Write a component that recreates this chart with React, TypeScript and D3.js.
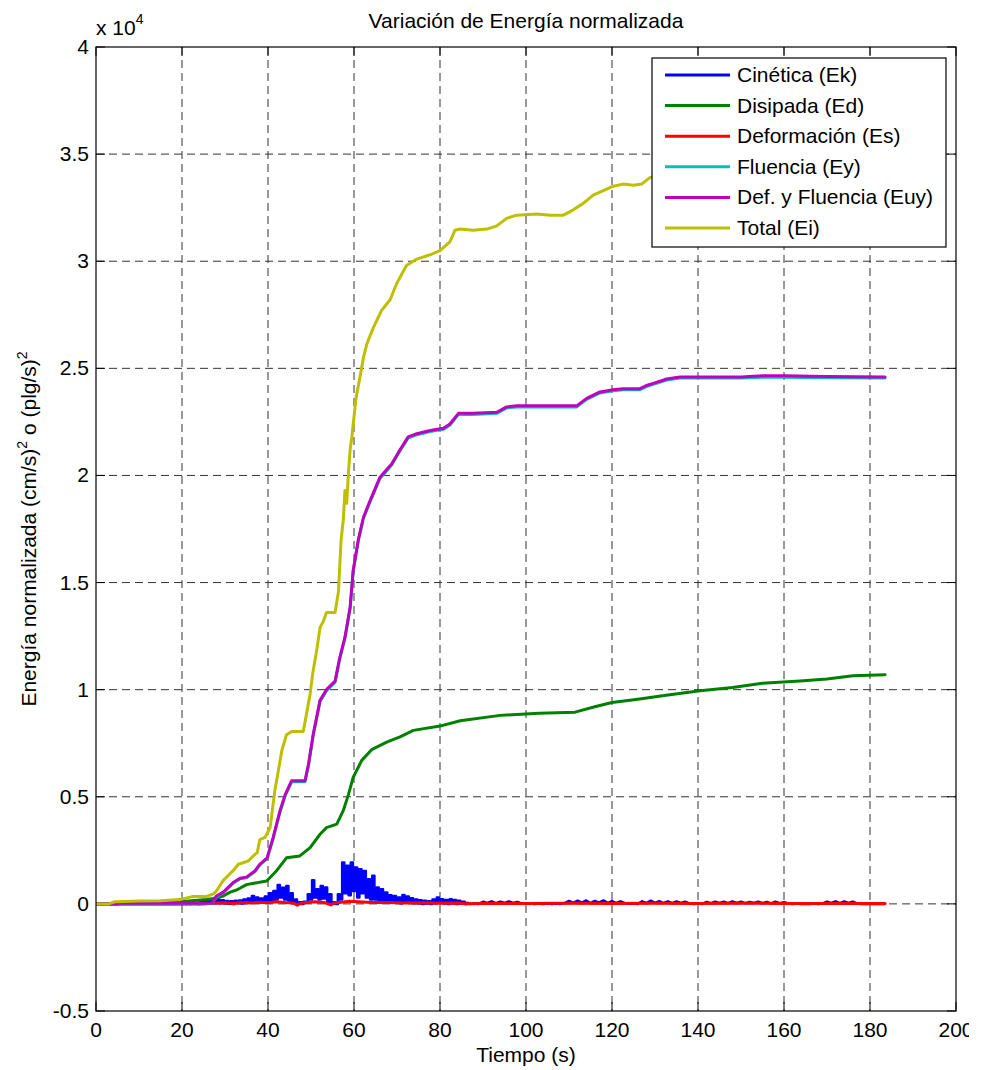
import React from "react";
import * as d3 from "d3";

// ---- Data (energies in units of 1e4) ----
const X_TICKS = [0, 20, 40, 60, 80, 100, 120, 140, 160, 180, 200];
const Y_TICKS = [-0.5, 0, 0.5, 1, 1.5, 2, 2.5, 3, 3.5, 4];

// Total (Ei)
const EI_T = [0, 3, 4.4, 10, 15, 19.5, 22.6, 25.7, 27.3, 28, 29.6, 31.9, 33.1, 35.4, 36.6, 37.5, 38.1, 39.3, 40.5, 41.6, 42.4, 43.2, 44.3, 45.5, 48.2, 48.8, 49.8, 50.4, 51.3, 52.1, 52.9, 53.6, 55.6, 56.4, 57.0, 57.5, 57.9, 58.3, 58.7, 59.1, 59.5, 60.5, 61.4, 62.2, 63, 64.5, 66.4, 68.4, 69.9, 72.2, 74.6, 77.7, 80, 82.3, 83.5, 84.7, 87.7, 90.9, 93.2, 95.5, 97.8, 102.5, 105.6, 108.7, 111, 113.3, 115.7, 118, 120.3, 122.6, 125, 126.9, 128.8, 132, 140, 150, 160, 170, 183.5];
const EI_V = [0, 0, 0.01, 0.013, 0.015, 0.02, 0.035, 0.035, 0.047, 0.06, 0.11, 0.155, 0.185, 0.2, 0.224, 0.24, 0.3, 0.31, 0.356, 0.53, 0.62, 0.715, 0.79, 0.805, 0.805, 0.87, 0.98, 1.075, 1.18, 1.29, 1.32, 1.36, 1.36, 1.46, 1.7, 1.79, 1.93, 1.87, 2.01, 2.12, 2.18, 2.365, 2.46, 2.55, 2.615, 2.69, 2.77, 2.82, 2.895, 2.98, 3.01, 3.03, 3.05, 3.09, 3.145, 3.15, 3.145, 3.15, 3.165, 3.2, 3.215, 3.22, 3.215, 3.215, 3.24, 3.27, 3.31, 3.33, 3.35, 3.36, 3.355, 3.36, 3.39, 3.41, 3.44, 3.47, 3.5, 3.52, 3.54];

// Def. y Fluencia (Euy)
const EUY_T = [0, 5, 5.5, 27, 28, 29.6, 31.9, 33.5, 35, 37, 38.1, 39.8, 41.2, 42.8, 44, 45.5, 48.6, 49.4, 50.5, 52.1, 53.6, 55.6, 56.7, 57.9, 59.1, 59.8, 61, 62.2, 63.7, 66, 68.8, 70.7, 72.6, 74.6, 77.7, 80.8, 82.3, 84.3, 87.7, 93.2, 95.5, 97.8, 111.8, 114.1, 117.2, 120.3, 122.6, 126.5, 128, 129.6, 132.7, 135.8, 150, 155, 160, 170, 183.5];
const EUY_V = [0, 0, 0.003, 0.003, 0.037, 0.055, 0.1, 0.12, 0.125, 0.155, 0.185, 0.215, 0.31, 0.435, 0.51, 0.575, 0.575, 0.65, 0.79, 0.95, 1.0, 1.04, 1.15, 1.245, 1.385, 1.555, 1.7, 1.805, 1.88, 1.99, 2.055, 2.12, 2.18, 2.195, 2.21, 2.22, 2.24, 2.29, 2.29, 2.295, 2.32, 2.325, 2.325, 2.36, 2.39, 2.4, 2.405, 2.405, 2.42, 2.43, 2.45, 2.46, 2.46, 2.465, 2.465, 2.462, 2.46];

// Fluencia (Ey)
const EY_T = [0, 5, 5.5, 27, 28, 29.6, 31.9, 33.5, 35, 37, 38.1, 39.8, 41.2, 42.8, 44, 45.5, 48.6, 49.4, 50.5, 52.1, 53.6, 55.6, 56.7, 57.9, 59.1, 59.8, 61, 62.2, 63.7, 66, 68.8, 70.7, 72.6, 74.6, 77.7, 80.8, 82.3, 84.3, 87.7, 93.2, 95.5, 97.8, 111.8, 114.1, 117.2, 120.3, 122.6, 126.5, 128, 129.6, 132.7, 135.8, 150, 155, 160, 170, 183.5];
const EY_V = [0, 0, 0.002, 0.002, 0.034, 0.052, 0.097, 0.117, 0.122, 0.152, 0.182, 0.212, 0.305, 0.43, 0.505, 0.57, 0.57, 0.645, 0.785, 0.945, 0.995, 1.035, 1.145, 1.24, 1.38, 1.55, 1.695, 1.8, 1.875, 1.985, 2.05, 2.115, 2.175, 2.19, 2.205, 2.215, 2.235, 2.285, 2.285, 2.29, 2.315, 2.32, 2.32, 2.355, 2.385, 2.395, 2.4, 2.4, 2.415, 2.425, 2.445, 2.455, 2.455, 2.458, 2.458, 2.456, 2.455];

// Disipada (Ed)
const ED_T = [0, 4, 5, 19.5, 25.7, 27.3, 29.6, 31.2, 32.7, 35, 39.7, 42, 44.3, 47.4, 49.8, 52.1, 53.6, 56, 57.5, 58.7, 59.8, 61.8, 64.1, 67.6, 70.7, 73.8, 80, 84.7, 94, 103, 111.4, 116, 120, 126, 133, 140.5, 148, 155, 163.7, 170, 176, 183.5];
const ED_V = [0, 0, 0.006, 0.01, 0.02, 0.025, 0.037, 0.055, 0.065, 0.09, 0.107, 0.155, 0.215, 0.224, 0.263, 0.325, 0.356, 0.372, 0.435, 0.51, 0.59, 0.67, 0.72, 0.755, 0.78, 0.81, 0.83, 0.855, 0.88, 0.89, 0.895, 0.92, 0.94, 0.955, 0.975, 0.995, 1.01, 1.03, 1.04, 1.05, 1.065, 1.07];

// Deformación (Es)
const ES_T = [0, 25, 27, 30, 32, 34, 36, 38, 40, 42, 44, 46, 46.8, 47.5, 49, 51, 53, 54.6, 55.5, 57, 59, 61, 63, 65, 68, 72, 76, 80, 84, 86, 90, 100, 110, 120, 130, 140, 150, 160, 170, 183.5];
const ES_V = [0, 0, 0.003, 0.005, 0.002, 0.006, 0.004, 0.008, 0.005, 0.01, 0.006, 0.003, -0.006, 0.002, 0.006, 0.01, 0.007, -0.005, 0.004, 0.008, 0.012, 0.01, 0.008, 0.006, 0.007, 0.004, 0.005, 0.003, 0.004, 0.001, 0.002, 0.002, 0.003, 0.002, 0.003, 0.002, 0.003, 0.002, 0.002, 0.002];

// Cinética (Ek): samples every 0.5 s from t = 20, then every 1 s from t = 87
const EK_HEAD_T0 = 20;
const EK_HEAD_STEP = 0.5;
const EK_HEAD_V = [
  0, 0.003, 0, 0.003, 0, 0.004, 0.001, 0.005, 0, 0.012,
  0.002, 0.015, 0.003, 0.018, 0.002, 0.016, 0.004, 0.02, 0.003, 0.017,
  0.002, 0.014, 0.001, 0.012, 0, 0.015, 0.003, 0.016, 0.002, 0.02,
  0.004, 0.025, 0.006, 0.037, 0.01, 0.03, 0.005, 0.025, 0.008, 0.035,
  0.01, 0.05, 0.015, 0.06, 0.02, 0.088, 0.03, 0.075, 0.02, 0.084,
  0.015, 0.05, 0.005, 0.02, 0, 0.008, 0, 0.01, 0.005, 0.045,
  0.02, 0.11, 0.03, 0.068, 0.02, 0.084, 0.025, 0.076, 0.01, 0.045,
  0.002, 0.008, 0, 0.045, 0.02, 0.193, 0.05, 0.178, 0.04, 0.193,
  0.06, 0.17, 0.03, 0.162, 0.05, 0.154, 0.03, 0.115, 0.02, 0.131,
  0.02, 0.076, 0.01, 0.068, 0.01, 0.053, 0.005, 0.04, 0.01, 0.037,
  0.005, 0.03, 0.003, 0.042, 0.008, 0.035, 0.005, 0.026, 0.003, 0.02,
  0.002, 0.017, 0, 0.015, 0.002, 0.012, 0, 0.02, 0.003, 0.03,
  0.005, 0.022, 0.002, 0.018, 0, 0.022, 0.003, 0.018, 0, 0.015,
  0.002, 0.01, 0, 0.004,
];
const EK_TAIL_T0 = 87;
const EK_TAIL_STEP = 1;
const EK_TAIL_V = [
  0, 0.003, 0, 0.01, 0.004, 0.012, 0.003, 0.01, 0.005, 0.012,
  0.004, 0.009, 0.002, 0.001, 0.002, 0, 0.002, 0, 0.002, 0,
  0.002, 0, 0.004, 0.014, 0.005, 0.015, 0.006, 0.016, 0.004, 0.014,
  0.006, 0.016, 0.005, 0.013, 0.004, 0.012, 0.003, 0.001, 0.002, 0,
  0.012, 0.004, 0.015, 0.005, 0.013, 0.004, 0.012, 0.003, 0.011, 0.004,
  0.01, 0.002, 0, 0.002, 0, 0.009, 0.003, 0.01, 0.004, 0.01,
  0.003, 0.011, 0.004, 0.01, 0.003, 0.009, 0.004, 0.01, 0.003, 0.009,
  0.002, 0.01, 0.003, 0.008, 0.002, 0, 0.002, 0, 0.001, 0,
  0.002, 0, 0.002, 0.01, 0.004, 0.012, 0.003, 0.011, 0.004, 0.01,
  0.002, 0, 0.001, 0, 0.001, 0, 0.001,
];

const SERIES_NAMES = ["Cinética (Ek)", "Disipada (Ed)", "Deformación (Es)", "Fluencia (Ey)", "Def. y Fluencia (Euy)", "Total (Ei)"];
const SERIES_COLORS = ["#0000ff", "#008000", "#ff0000", "#00bfbf", "#bf00bf", "#bfbf00"];

const zip = (t: number[], v: number[]): [number, number][] => t.map((ti, i) => [ti, v[i]]);

export default function App() {
  const W = 981, H = 1070;
  const L = 96, R = 956, T = 47, B = 1011;
  const x = d3.scaleLinear().domain([0, 200]).range([L, R]);
  const y = d3.scaleLinear().domain([-0.5, 4]).range([B, T]);
  const line = d3.line<[number, number]>().x((d) => x(d[0])).y((d) => y(d[1]));
  const stepLine = d3.line<[number, number]>().x((d) => x(d[0])).y((d) => y(d[1])).curve(d3.curveStep);

  const ekHead: [number, number][] = [[0, 0], [EK_HEAD_T0 - 0.5, 0]];
  EK_HEAD_V.forEach((v, i) => ekHead.push([EK_HEAD_T0 + i * EK_HEAD_STEP, v]));
  const ekTail: [number, number][] = [[EK_HEAD_T0 + (EK_HEAD_V.length - 1) * EK_HEAD_STEP, EK_HEAD_V[EK_HEAD_V.length - 1]]];
  EK_TAIL_V.forEach((v, i) => ekTail.push([EK_TAIL_T0 + i * EK_TAIL_STEP, v]));
  ekTail.push([183.5, 0]);

  const data: [number, number][][] = [
    zip(ED_T, ED_V),
    zip(ES_T, ES_V),
    zip(EY_T, EY_V),
    zip(EUY_T, EUY_V),
    zip(EI_T, EI_V),
  ];

  const font = "'Liberation Sans', Arial, Helvetica, sans-serif";
  const fmt = (v: number) => (v === 0 ? "0" : String(v));
  const tick = 9;

  const legX = 652, legY = 58, legW = 294, legH = 189;
  const rowY0 = 75, rowDY = 30.6;

  return (
    <svg width={W} height={H} style={{ position: "absolute", left: 0, top: 0, background: "#fff" }} fontFamily={font}>
      <defs>
        <clipPath id="plotclip">
          <rect x={L} y={T} width={R - L} height={B - T} />
        </clipPath>
        <clipPath id="figclip">
          <rect x={0} y={0} width={969} height={H} />
        </clipPath>
      </defs>
      <rect x={0} y={0} width={W} height={H} fill="#fff" />
      {/* grid */}
      <g stroke="#333" strokeWidth={1} strokeDasharray="8,5">
        {X_TICKS.slice(1, -1).map((t) => (
          <line key={"gx" + t} x1={x(t)} x2={x(t)} y1={T} y2={B} />
        ))}
        {Y_TICKS.slice(1, -1).map((t) => (
          <line key={"gy" + t} x1={L} x2={R} y1={y(t)} y2={y(t)} />
        ))}
      </g>
      {/* ticks */}
      <g stroke="#000" strokeWidth={1}>
        {X_TICKS.map((t) => (
          <g key={"tx" + t}>
            <line x1={x(t)} x2={x(t)} y1={B} y2={B - tick} />
            <line x1={x(t)} x2={x(t)} y1={T} y2={T + tick} />
          </g>
        ))}
        {Y_TICKS.map((t) => (
          <g key={"ty" + t}>
            <line x1={L} x2={L + tick} y1={y(t)} y2={y(t)} />
            <line x1={R} x2={R - tick} y1={y(t)} y2={y(t)} />
          </g>
        ))}
      </g>
      {/* data */}
      <g clipPath="url(#plotclip)" fill="none" strokeLinejoin="round" strokeLinecap="round">
        <path d={stepLine(ekHead) || ""} stroke={SERIES_COLORS[0]} strokeWidth={2.5} />
        <path d={line(ekTail) || ""} stroke={SERIES_COLORS[0]} strokeWidth={2.5} />
        {data.map((d, i) => (
          <path key={"s" + i} d={line(d) || ""} stroke={SERIES_COLORS[i + 1]} strokeWidth={3} />
        ))}
      </g>
      {/* box */}
      <rect x={L} y={T} width={R - L} height={B - T} fill="none" stroke="#000" strokeWidth={1.2} />
      {/* tick labels */}
      <g fontSize={21} fill="#000" clipPath="url(#figclip)">
        {X_TICKS.map((t) => (
          <text key={"lx" + t} x={x(t)} y={B + 26} textAnchor="middle">{fmt(t)}</text>
        ))}
        {Y_TICKS.map((t) => (
          <text key={"ly" + t} x={L - 7} y={y(t) + 7} textAnchor="end">{fmt(t)}</text>
        ))}
      </g>
      <text x={L} y={35} fontSize={21}>
        x 10<tspan dy={-11} fontSize={14}>4</tspan>
      </text>
      {/* title and axis labels */}
      <text x={(L + R) / 2} y={28} fontSize={21} textAnchor="middle">Variación de Energía normalizada</text>
      <text x={(L + R) / 2} y={1062} fontSize={21} textAnchor="middle">Tiempo (s)</text>
      <text transform={`translate(36,${(T + B) / 2}) rotate(-90)`} fontSize={21} textAnchor="middle">
        Energía normalizada (cm/s)<tspan dy={-9} fontSize={14}>2</tspan>
        <tspan dy={9}> o (plg/s)</tspan>
        <tspan dy={-9} fontSize={14}>2</tspan>
      </text>
      {/* legend */}
      <rect x={legX} y={legY} width={legW} height={legH} fill="#fff" stroke="#000" strokeWidth={1.2} />
      {SERIES_NAMES.map((n, i) => (
        <g key={"lg" + i}>
          <line x1={665} x2={730} y1={rowY0 + i * rowDY} y2={rowY0 + i * rowDY} stroke={SERIES_COLORS[i]} strokeWidth={3} />
          <text x={737} y={rowY0 + i * rowDY + 7} fontSize={21}>{n}</text>
        </g>
      ))}
    </svg>
  );
}
